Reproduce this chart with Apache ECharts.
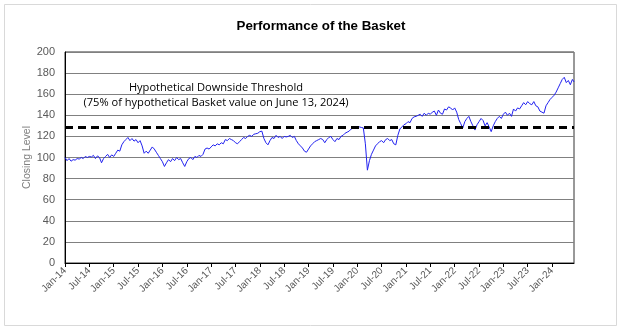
<!DOCTYPE html>
<html>
<head>
<meta charset="utf-8">
<script src="https://cdn.jsdelivr.net/npm/echarts@6/dist/echarts.min.js"></script>
<style>
  html, body { margin: 0; padding: 0; background: #fff; }
  #chart { width: 623px; height: 332px; }
</style>
</head>
<body>
<div id="chart"></div>
<script>
// Twice-monthly closing levels of the hypothetical basket (1st and 16th of each month)
const close2014 = [100, 97, 99, 96.5, 98, 97.5, 99, 98.5, 100, 99, 101, 100, 101, 100.5, 102, 99, 101.5, 100, 95, 99, 101, 103, 100, 102.5];
const close2015 = [101, 104, 107, 106, 112, 115, 117, 119, 116, 118, 115.5, 117, 114, 116, 111, 104, 106, 104, 107, 110, 108, 105, 102, 99];
const close2016 = [96, 91.5, 95, 98, 96, 99, 97, 100, 98, 99, 95, 91.5, 96, 99, 100, 98, 101, 100, 102, 101, 103, 108, 109, 108];
const close2017 = [110, 112, 111, 113, 112, 114, 113, 117, 116, 118, 117, 116, 114, 113, 115, 117, 119, 118, 120, 121, 120, 122, 122.5, 123];
const close2018 = [124.5, 125, 118, 114, 112, 116, 119, 118, 121, 119, 120, 118, 120, 119.5, 120, 121, 119, 120, 116, 113, 111, 109, 106, 105];
const close2019 = [108, 111, 113, 115, 116, 117, 118, 117, 114, 117, 119, 120, 117, 115, 118, 117, 120, 121, 123, 124, 125, 127, 128, 129];
const close2020 = [127.5, 129, 128.5, 128, 113, 88, 97, 103, 107, 111, 113, 115, 116, 114, 117, 118, 116, 117, 113, 112, 121, 127, 129, 131];
const close2021 = [132, 134, 133, 137, 138.5, 139, 140, 141, 139, 142, 140, 142, 141, 143, 144, 140, 145, 142, 141, 146, 145, 148, 147, 145];
const close2022 = [147, 143, 136, 132, 128, 134, 137, 139, 134, 130, 126, 131, 134, 137, 135, 130, 133, 129, 124.5, 130, 134, 137, 139, 137];
const close2023 = [141, 143, 140, 142, 139, 146, 144, 147, 146, 149, 152, 150, 153, 151, 150, 153, 149, 148, 144, 143, 142, 149, 152, 155];
const close2024 = [157, 159, 162, 166, 170, 174, 176, 171, 173, 169, 174];
const finalDate = '2024-06-13';
const finalLevel = 171.6;
const thresholdLevel = 128.7; // 75% of the final level

const years = [2014, 2015, 2016, 2017, 2018, 2019, 2020, 2021, 2022, 2023, 2024];
const yearlyCloses = [close2014, close2015, close2016, close2017, close2018, close2019, close2020, close2021, close2022, close2023, close2024];

const tickLabels = ['Jan-14', 'Jul-14', 'Jan-15', 'Jul-15', 'Jan-16', 'Jul-16', 'Jan-17', 'Jul-17',
  'Jan-18', 'Jul-18', 'Jan-19', 'Jul-19', 'Jan-20', 'Jul-20', 'Jan-21', 'Jul-21',
  'Jan-22', 'Jul-22', 'Jan-23', 'Jul-23', 'Jan-24'];

// x position = months elapsed since 1 Jan 2014
function monthsSinceStart(dateStr) {
  const [y, m, d] = dateStr.split('-').map(Number);
  return (y - 2014) * 12 + (m - 1) + (d - 1) / 30;
}

const points = [];
years.forEach((year, yi) => {
  yearlyCloses[yi].forEach((v, i) => {
    const month = String(Math.floor(i / 2) + 1).padStart(2, '0');
    const day = i % 2 === 0 ? '01' : '16';
    points.push([monthsSinceStart(`${year}-${month}-${day}`), v]);
  });
});
points.push([monthsSinceStart(finalDate), finalLevel]);

const xMax = monthsSinceStart(finalDate);

const chart = echarts.init(document.getElementById('chart'), null, { renderer: 'canvas' });
chart.setOption({
  animation: false,
  backgroundColor: '#ffffff',
  title: {
    text: 'Performance of the Basket',
    left: 316,
    top: 15,
    textAlign: 'center',
    textStyle: { fontFamily: 'Liberation Sans', fontWeight: 'bold', fontSize: 13.33, color: '#000' }
  },
  grid: { left: 65, right: 49, top: 52, bottom: 69, containLabel: false,
    show: true, borderColor: '#333', borderWidth: 1, backgroundColor: 'transparent' },
  xAxis: {
    type: 'value',
    min: 0,
    max: xMax,
    interval: 6,
    axisLine: { show: true, onZero: false, lineStyle: { color: '#000', width: 1 } },
    axisTick: { show: true, inside: false, length: 4, lineStyle: { color: '#000' } },
    splitLine: { show: false },
    axisLabel: {
      rotate: 45,
      margin: 6,
      showMaxLabel: false,
      fontFamily: 'Liberation Sans',
      fontSize: 10,
      color: '#595959',
      formatter: v => tickLabels[Math.round(v / 6)] || ''
    }
  },
  yAxis: {
    type: 'value',
    min: 0,
    max: 200,
    interval: 20,
    name: 'Closing Level',
    nameLocation: 'middle',
    nameGap: 32,
    nameMoveOverlap: false,
    nameRotate: 90,
    nameTextStyle: { fontFamily: 'Liberation Sans', fontSize: 10.5, color: '#7f7f7f' },
    axisLine: { show: true, lineStyle: { color: '#000', width: 1 } },
    axisTick: { show: false },
    splitLine: { show: true, lineStyle: { color: '#808080', width: 1 } },
    axisLabel: { margin: 10, fontFamily: 'Liberation Sans', fontSize: 11, color: '#595959' }
  },
  series: [{
    type: 'line',
    data: points,
    showSymbol: false,
    symbol: 'none',
    lineStyle: { color: '#2222f0', width: 1 },
    markLine: {
      silent: true,
      symbol: ['none', 'none'],
      label: { show: false },
      lineStyle: { color: '#000', width: 3, type: [8, 5] },
      data: [{ yAxis: thresholdLevel }]
    }
  }],
  graphic: [
    { type: 'rect', shape: { x: 4.5, y: 4.5, width: 612, height: 321 },
      style: { fill: 'none', stroke: '#d9d9d9', lineWidth: 1 }, silent: true },
    { type: 'text', x: 216, y: 88,
      style: { text: 'Hypothetical Downside Threshold', fontFamily: 'Open Sans', fontSize: 11.1,
        fill: '#000', textAlign: 'center', textVerticalAlign: 'middle' } },
    { type: 'text', x: 216, y: 103,
      style: { text: '(75% of hypothetical Basket value on June 13, 2024)', fontFamily: 'Open Sans', fontSize: 11.1,
        fill: '#000', textAlign: 'center', textVerticalAlign: 'middle' } }
  ]
});
</script>
</body>
</html>
